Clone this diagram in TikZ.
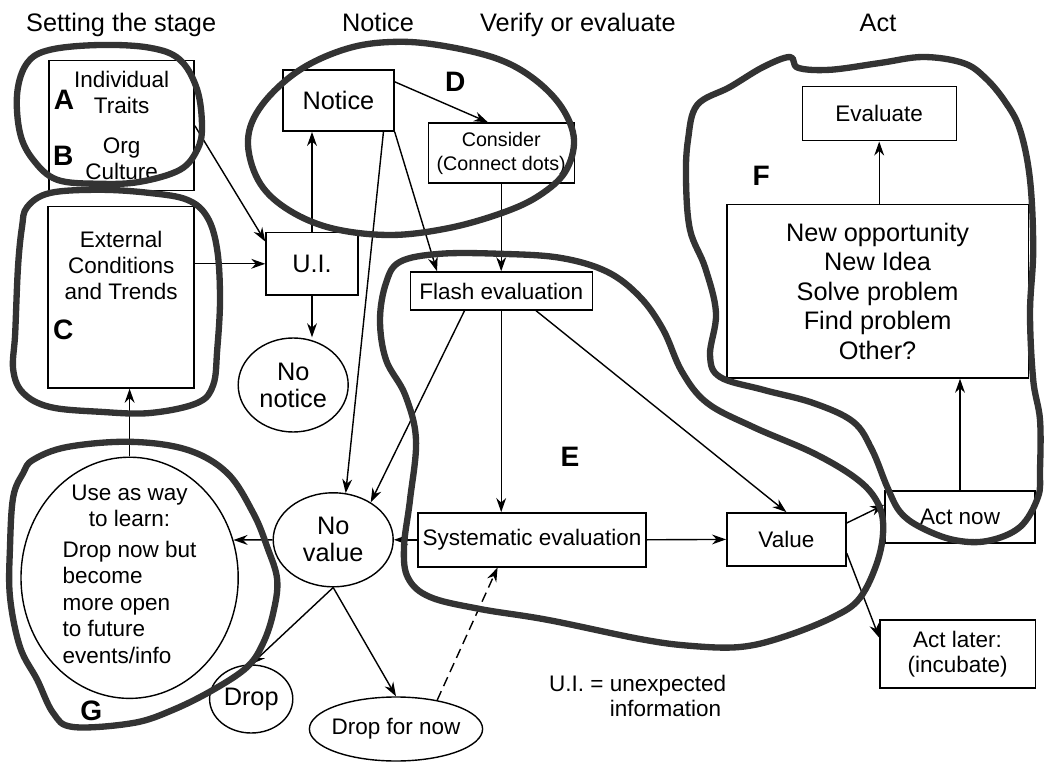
\documentclass[tikz,border=0pt]{standalone}
\usepackage{fontspec}
\setmainfont{Liberation Sans}
\usepackage{tikz}
\usetikzlibrary{shapes.geometric,arrows.meta,calc,positioning}
\tikzstyle{box}   = [rectangle, draw, line width=1pt, inner sep=0pt, align=center, font=\fontsize{16}{18.5}\selectfont]
\tikzstyle{oval}  = [ellipse, draw, line width=1pt, inner sep=0pt, align=center, font=\fontsize{18}{19.2}\selectfont]
\tikzstyle{big}   = [font=\fontsize{18}{21}\selectfont]
\tikzstyle{small} = [font=\fontsize{14}{17}\selectfont]
\tikzstyle{txt}   = [inner sep=0pt, align=center, font=\fontsize{16}{18.8}\selectfont]
\tikzstyle{head}  = [anchor=base, font=\fontsize{18}{21}\selectfont]
\tikzstyle{tag}   = [font=\bfseries\fontsize{20}{24}\selectfont]
\tikzstyle{arrow} = [line width=1pt, -{Stealth[length=10pt,width=7pt]}]
\tikzstyle{ring}  = [line width=4.5pt, draw=black!80, line join=round]

\begin{document}
\begin{tikzpicture}
    \useasboundingbox (0,0) rectangle (26.1,19.075);

    % column headings
    \node[head] (hstage)  at (3.03,18.28)  {Setting the stage};
    \node[head] (hnotice) at (9.45,18.28)  {Notice};
    \node[head] (hverify) at (14.45,18.28) {Verify or evaluate};
    \node[head] (hact)    at (21.95,18.28) {Act};

    % boxes
    \node[box, minimum width=3.63cm, minimum height=3.25cm] (traits) at (3.04,15.93) {Individual\\Traits\\[0.35cm]Org\\Culture};
    \node[box, minimum width=3.65cm, minimum height=4.53cm] (ext) at (3.03,11.64) {};
    \node[txt] (exttext) at (3.03,12.44) {External\\Conditions\\and Trends};
    \node[box, big, minimum width=2.78cm, minimum height=1.53cm] (notice) at (8.46,16.56) {Notice};
    \node[box, small, minimum width=3.65cm, minimum height=1.5cm] (consider) at (12.53,15.25) {Consider\\(Connect dots)};
    \node[box, big, minimum width=2.3cm, minimum height=1.55cm] (ui) at (7.8,12.48) {U.I.};
    \node[box, minimum width=4.55cm, minimum height=0.95cm] (flash) at (12.53,11.8) {Flash evaluation};
    \node[box, minimum width=3.85cm, minimum height=1.35cm] (evaluate) at (21.98,16.23) {Evaluate};
    \node[box, font=\fontsize{18}{21}\selectfont, minimum width=7.53cm, minimum height=4.33cm] (outcome) at (21.94,11.79) {New opportunity\\New Idea\\Solve problem\\Find problem\\Other?};
    \node[box, minimum width=3.75cm, minimum height=1.3cm] (actnow) at (24.0,6.15) {Act now};
    \node[box, font=\fontsize{16}{17.7}\selectfont, minimum width=3.88cm, minimum height=1.7cm] (actlater) at (23.94,2.73) {Act later:\\(incubate)};
    \node[box, minimum width=2.98cm, minimum height=1.33cm] (value) at (19.66,5.59) {Value};
    \node[box, minimum width=5.7cm, minimum height=1.35cm] (sys) at (13.3,5.58) {Systematic evaluation};

    % ellipses
    \node[oval, minimum width=2.75cm, minimum height=2.35cm] (nonotice) at (7.33,9.45) {No\\notice};
    \node[oval, minimum width=3.0cm, minimum height=2.35cm] (novalue) at (8.33,5.58) {No\\value};
    \node[oval, font=\fontsize{16}{18.8}\selectfont, inner ysep=-0.25cm, minimum width=5.43cm, minimum height=6.03cm] (learn) at (3.24,4.63)
        {Use as way\\to learn:\\[0.11cm]\begin{tabular}[t]{@{}l@{}}Drop now but\\become\\more open\\to future\\events/info\end{tabular}};
    \node[oval, minimum width=2.08cm, minimum height=1.7cm] (drop) at (6.28,1.6) {Drop};
    \node[oval, font=\fontsize{16}{18.8}\selectfont, inner xsep=-0.2cm, minimum width=4.33cm, minimum height=1.6cm] (dropnow) at (9.9,0.85) {Drop for now};

    \node[txt, align=left, font=\fontsize{16}{17.7}\selectfont] (legend) at (15.94,1.68) {U.I. = unexpected\\\phantom{U.I. = }information};

    % connectors
    \draw[arrow] (traits.east) -- ($(ui.north west)!0.15!(ui.south west)$);
    \draw[arrow] (ui.west -| ext.east) -- (ui.west);
    \draw[arrow] (ui.north) -- (ui.north |- notice.south);
    \draw[arrow] (ui.south) -- (ui.south |- nonotice.north);
    \draw[arrow] ($(notice.north east)!0.2!(notice.south east)$) -- ($(consider.north west)!0.41!(consider.north east)$);
    \draw[arrow] (notice.south east) -- ($(flash.north west)!0.15!(flash.north east)$);
    \draw[arrow] ($(notice.south)!0.8!(notice.south east)$) -- (novalue.75);
    \draw[arrow] (consider.south) -- (flash.north);
    \draw[arrow] ($(flash.south west)!0.3!(flash.south east)$) -- (novalue.45);
    \draw[arrow] (flash.south) -- (flash.south |- sys.north);
    \draw[arrow] ($(flash.south west)!0.69!(flash.south east)$) -- (value.north);
    \draw[arrow] (sys.west) -- (novalue.east);
    \draw[arrow] (sys.east) -- (value.west);
    \draw[arrow] ($(value.north east)!0.2!(value.south east)$) -- ($(actnow.north west)!0.27!(actnow.south west)$);
    \draw[arrow] ($(value.north east)!0.75!(value.south east)$) -- ($(actlater.north west)!0.27!(actlater.south west)$);
    \draw[arrow] (actnow.north) -- (actnow.north |- outcome.south);
    \draw[arrow] (evaluate.south |- outcome.north) -- (evaluate.south);
    \draw[arrow] (novalue.west) -- (learn.20);
    \draw[arrow] (learn.north) -- (learn.north |- ext.south);
    \draw[arrow] (novalue.south) -- (drop.north);
    \draw[arrow] (novalue.south) -- (dropnow.north);
    \draw[arrow, dash pattern=on 7pt off 4pt] (dropnow.35) -- ($(sys.south west)!0.35!(sys.south east)$);

    % hand drawn groups
    \draw[ring] plot[smooth cycle, tension=0.6] coordinates {(0.68,17.5) (1.25,17.83) (2.5,17.95) (3.75,17.88) (4.5,17.58) (4.93,16.83) (5.05,15.9) (4.93,15.33) (4.5,14.83) (3.5,14.53) (2.5,14.48) (1.43,14.58) (0.83,15.08) (0.5,15.75) (0.43,16.75)};
    \draw[ring] plot[smooth cycle, tension=0.6] coordinates {(0.68,13.9) (1.25,14.25) (2.5,14.33) (3.75,14.25) (4.68,14.08) (5.18,13.65) (5.43,12.83) (5.5,11.58) (5.43,10.33) (5.33,9.45) (4.93,9.0) (3.75,8.75) (2.5,8.78) (1.25,8.9) (0.58,9.25) (0.33,9.83) (0.38,10.75) (0.45,12.4) (0.55,13.4)};
    \draw[ring] plot[smooth cycle, tension=0.6] coordinates {(6.2,15.58) (6.55,16.45) (7.5,17.33) (8.75,17.88) (10.0,18.03) (11.25,17.9) (12.5,17.58) (13.38,17.08) (14.05,16.38) (14.35,15.58) (14.13,14.78) (13.5,14.2) (12.63,13.78) (11.25,13.38) (9.75,13.2) (8.25,13.38) (7.13,13.88) (6.45,14.58)};
    \draw[ring] plot[smooth cycle, tension=0.6] coordinates {(10.0,12.53) (11.0,12.73) (12.5,12.73) (14.0,12.63) (15.18,12.28) (16.0,11.65) (16.58,10.83) (17.05,9.78) (17.68,9.0) (18.83,8.4) (20.33,7.75) (21.38,7.13) (21.9,6.58) (22.08,5.95) (21.95,5.08) (21.5,4.13) (20.83,3.65) (19.58,3.15) (18.5,2.9) (17.25,2.93) (16.0,3.1) (13.68,3.58) (12.0,3.85) (10.75,4.15) (10.2,4.63) (10.1,5.4) (10.25,6.58) (10.4,8.08) (10.13,9.2) (9.65,10.08) (9.5,11.08) (9.65,12.0)};
    \draw[ring] plot[smooth cycle, tension=0.6] coordinates {(17.43,16.45) (18.25,16.9) (19.08,17.4) (19.75,17.65) (19.95,17.38) (20.75,17.33) (22.0,17.5) (23.08,17.65) (24.08,17.5) (24.63,17.13) (25.13,16.53) (25.5,15.83) (25.75,14.58) (25.83,12.83) (25.75,11.25) (25.83,9.58) (26.0,8.58) (26.0,7.33) (25.95,6.65) (25.5,5.9) (24.68,5.55) (23.83,5.58) (23.0,5.9) (22.5,6.28) (22.18,6.9) (21.8,7.83) (21.33,8.53) (20.33,9.0) (19.08,9.33) (18.0,9.65) (17.75,10.2) (17.9,11.25) (17.63,12.38) (17.25,13.33) (17.15,14.58) (17.2,15.58)};
    \draw[ring] plot[smooth cycle, tension=0.6] coordinates {(0.83,7.58) (1.68,7.9) (3.25,8.03) (4.68,7.83) (5.68,7.25) (6.33,6.25) (6.68,5.4) (6.93,4.58) (6.83,3.75) (6.58,3.0) (6.18,2.4) (5.33,1.83) (4.33,1.33) (3.33,1.0) (1.83,0.9) (1.33,1.25) (0.93,2.08) (0.5,2.9) (0.25,4.15) (0.25,5.4) (0.33,6.65) (0.58,7.25)};

    % group letters
    \node[tag] (ga) at (1.6,16.58)   {A};
    \node[tag] (gb) at (1.58,15.18)  {B};
    \node[tag] (gc) at (1.58,10.83)  {C};
    \node[tag] (gd) at (11.38,17.03) {D};
    \node[tag] (ge) at (14.25,7.65)  {E};
    \node[tag] (gf) at (19.03,14.68) {F};
    \node[tag] (gg) at (2.28,1.3)    {G};
\end{tikzpicture}
\end{document}
